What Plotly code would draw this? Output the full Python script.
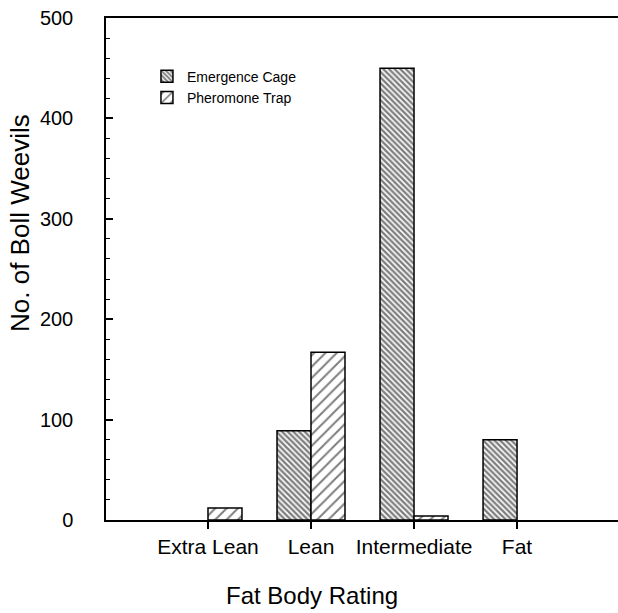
import plotly.graph_objects as go

categories = ["Extra Lean", "Lean", "Intermediate", "Fat"]
emergence_cage = [None, 89, 450, 80]
pheromone_trap = [12, 167, 4, None]
y_tick_vals = [0, 100, 200, 300, 400, 500]

FONT = "Liberation Sans, Arial, Helvetica, sans-serif"

fig = go.Figure()
fig.add_trace(go.Bar(
    x=categories, y=emergence_cage, name="Emergence Cage",
    marker=dict(color="white", line=dict(color="black", width=1.5),
                pattern=dict(shape="\\", size=4, solidity=0.6, fgcolor="black", bgcolor="white")),
))
fig.add_trace(go.Bar(
    x=categories, y=pheromone_trap, name="Pheromone Trap",
    marker=dict(color="white", line=dict(color="black", width=1.5),
                pattern=dict(shape="/", size=8, solidity=0.25, fgcolor="black", bgcolor="white")),
))

fig.update_layout(
    width=618, height=613,
    margin=dict(l=106, r=0, t=18, b=93, autoexpand=False),
    paper_bgcolor="white", plot_bgcolor="white",
    barmode="group", bargap=0.34, bargroupgap=0,
    font=dict(family=FONT, color="black"),
    showlegend=True,
    legend=dict(x=0.08, y=0.915, xanchor="left", yanchor="top",
                font=dict(size=14, family=FONT), bgcolor="rgba(0,0,0,0)",
                tracegroupgap=0),
    xaxis=dict(
        range=[-0.99, 3.98], showgrid=False, zeroline=False, automargin=False,
        showline=True, linecolor="black", linewidth=1.5, mirror=True,
        ticks="outside", ticklen=7, tickwidth=1.5, tickcolor="black",
        tickfont=dict(size=21, family=FONT),
    ),
    yaxis=dict(
        range=[0, 500], showgrid=False, zeroline=False, automargin=False,
        showline=True, linecolor="black", linewidth=1.5,
        tickvals=y_tick_vals, ticks="inside", ticklen=7, tickwidth=1.5, tickcolor="black",
        tickfont=dict(size=20, family=FONT), ticklabelstandoff=27,
        minor=dict(dtick=20, ticks="inside", ticklen=4, tickwidth=1.2, tickcolor="black", showgrid=False),
    ),
    annotations=[
        dict(text="Fat Body Rating", xref="paper", yref="paper",
             x=(312 - 106) / 512, y=-(595 - 520) / 502, xanchor="center", yanchor="middle",
             showarrow=False, font=dict(size=24, family=FONT)),
        dict(text="No. of Boll Weevils", xref="paper", yref="paper",
             x=-(106 - 20) / 512, y=(520 - 223) / 502, xanchor="center", yanchor="middle",
             textangle=-90, showarrow=False, font=dict(size=26, family=FONT)),
    ],
)

fig.write_html("out.html", config={"displayModeBar": False},
               post_script="document.body.style.margin='0px';")
